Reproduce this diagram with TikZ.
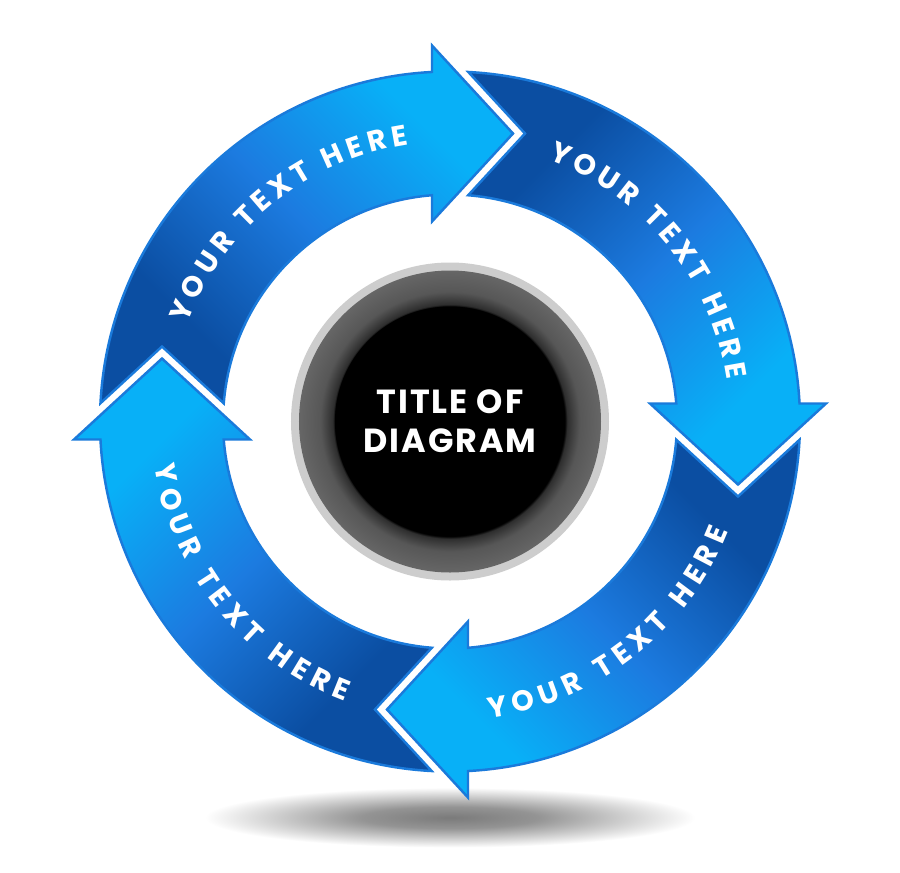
\documentclass[tikz,border=0pt]{standalone}
\usepackage{fontspec}
\setmainfont{Poppins}
\newfontfamily\titlefont{Poppins}[LetterSpace=6]
\usetikzlibrary{calc}
\usetikzlibrary{decorations.text}

\definecolor{bandDark}{HTML}{0B4EA2}
\definecolor{bandMid}{HTML}{1C7BE0}
\definecolor{bandLight}{HTML}{08B0F7}
\definecolor{bandEdge}{HTML}{1A7ADB}
\definecolor{ringGrey}{HTML}{CDCDCD}

\pgfdeclareverticalshading{arrowshade}{100bp}{color(0bp)=(bandDark); color(30bp)=(bandDark); color(50bp)=(bandMid); color(70bp)=(bandLight); color(100bp)=(bandLight)}
\pgfdeclareradialshading{holeshade}{\pgfpoint{0bp}{0bp}}{color(0bp)=(black); color(19bp)=(black); color(19.4bp)=(black!82); color(21.5bp)=(black!66); color(25bp)=(black!60); color(50bp)=(black!60)}
\pgfdeclareradialshading{floorshade}{\pgfpoint{0bp}{0bp}}{color(0bp)=(black!52); color(9bp)=(black!42); color(25bp)=(white); color(50bp)=(white)}

\tikzset{
  arrowband/.style={shading=arrowshade, draw=bandEdge, line width=0.7pt, line join=miter},
  arrowtext/.style={decorate, decoration={text along path, text align=fit to path, text color=white,
      text={|\bfseries\fontsize{8.2}{8.2}\selectfont|#1}}},
  titletext/.style={text=white, font=\titlefont\bfseries\fontsize{9.5}{11}\selectfont, align=center},
}

\begin{document}
\begin{tikzpicture}[x=0.01cm, y=0.01cm]
    \useasboundingbox (-450,-450.5) rectangle (450,421.5);
    \fill[white] (-450,-450.5) rectangle (450,421.5);

    % shadow under the wheel
    \shade[shading=floorshade] (0,-396) ellipse[x radius=245, y radius=30];

    % the four arrows, head angle \a
    \foreach \a in {90,0,-90,-180} {
      \pgfmathsetmacro\sang{\a-135}
      \shadedraw[arrowband, shading angle=\sang]
        (\a+87:350) arc[start angle=\a+87, end angle=\a+2.95, radius=350]
        -- ($(\a:376)+(\a+90:18)$) -- ($(\a:288)+(\a-90:63)$) -- ($(\a:200)+(\a+90:18)$)
        -- (\a+4.55:227) arc[start angle=\a+4.55, end angle=\a+85.4, radius=227]
        -- ($(\a+90:288)+(\a:75)$) -- cycle;
    }

    % labels on the arrows
    \foreach \c in {129,39}
      \path[arrowtext=YOUR TEXT HERE] (\c+30.5:280) arc[start angle=\c+30.5, end angle=\c-30.5, radius=280];
    \foreach \c in {-52,219}
      \path[arrowtext=YOUR TEXT HERE] (\c-30.5:299) arc[start angle=\c-30.5, end angle=\c+30.5, radius=299];

    % hub
    \fill[ringGrey] (0,0) circle[radius=159];
    \shade[shading=holeshade] (0,0) circle[radius=151];
    \fill[black] (0,0) circle[radius=115];
    \node[titletext] (title) at (0,0) {TITLE OF\\DIAGRAM};
\end{tikzpicture}
\end{document}
